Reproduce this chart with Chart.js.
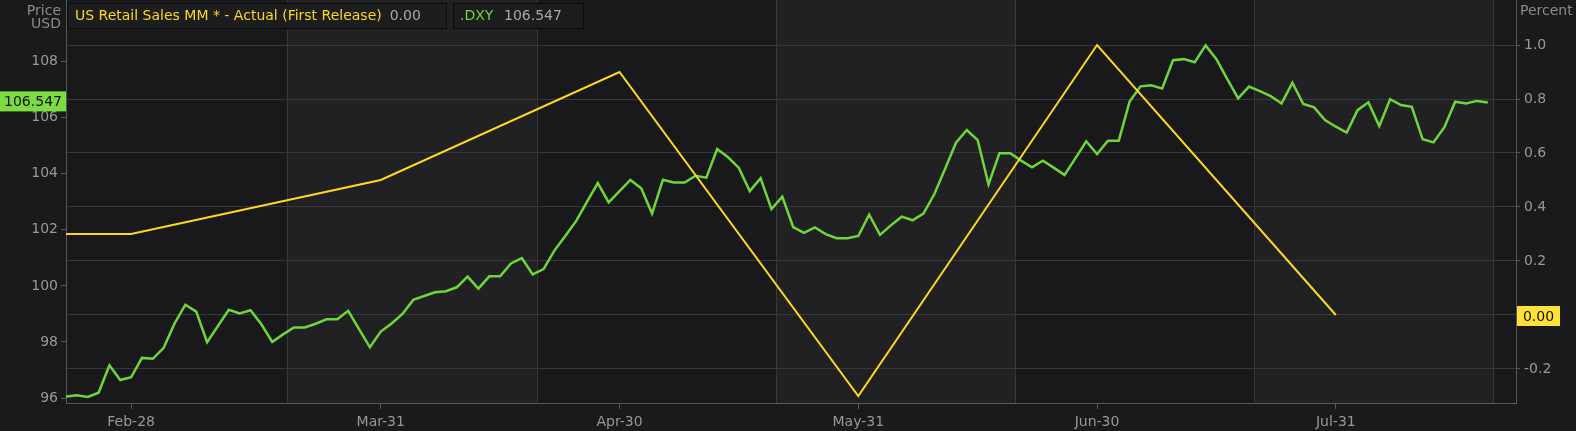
<!DOCTYPE html>
<html>
<head>
<meta charset="utf-8">
<script src="https://cdn.jsdelivr.net/npm/chart.js@4.4.1/dist/chart.umd.min.js"></script>
<style>
  html, body { margin: 0; padding: 0; background: #1a1a1c; overflow: hidden; }
  canvas { display: block; }
</style>
</head>
<body>
<canvas id="chart" width="1576" height="431"></canvas>
<script>
// DXY daily closes, one per trading day (index 0 = left edge)
const dxyValues = [
  96.05, 96.10, 96.04, 96.19, 97.17, 96.64, 96.74, 97.43, 97.40, 97.79,
  98.66, 99.33, 99.08, 97.99, 98.57, 99.15, 99.02, 99.13, 98.63, 98.00,
  98.27, 98.52, 98.52, 98.65, 98.81, 98.81, 99.11, 98.46, 97.81, 98.37,
  98.66, 99.00, 99.50, 99.64, 99.77, 99.81, 99.95, 100.33, 99.90, 100.34,
  100.34, 100.80, 100.99, 100.41, 100.60, 101.26, 101.78, 102.31, 103.00, 103.67,
  102.98, 103.38, 103.78, 103.48, 102.58, 103.79, 103.69, 103.69, 103.93, 103.86,
  104.88, 104.59, 104.21, 103.38, 103.84, 102.74, 103.18, 102.10, 101.89, 102.09,
  101.85, 101.70, 101.70, 101.78, 102.54, 101.82, 102.16, 102.47, 102.34, 102.58,
  103.27, 104.18, 105.11, 105.56, 105.20, 103.62, 104.73, 104.73, 104.47, 104.23,
  104.47, 104.22, 103.96, 104.55, 105.16, 104.70, 105.18, 105.18, 106.58, 107.12,
  107.16, 107.04, 108.05, 108.09, 107.98, 108.58, 108.09, 107.38, 106.69, 107.11,
  106.95, 106.77, 106.51, 107.25, 106.49, 106.37, 105.92, 105.68, 105.47, 106.27,
  106.55, 105.70, 106.66, 106.45, 106.39, 105.23, 105.12, 105.66, 106.57, 106.51,
  106.60, 106.547
];

// US Retail Sales MM, first release (percent), placed at month ends
const retailX = [0, 6, 29, 51, 73, 95, 117];
const retailValues = [0.3, 0.3, 0.5, 0.9, -0.3, 1.0, 0.0];

// x axis labels and their positions (trading-day index)
const monthTickPos = [6, 29, 51, 73, 95, 117];
const monthLabels = ['Feb-28', 'Mar-31', 'Apr-30', 'May-31', 'Jun-30', 'Jul-31'];
const bandEdges = [20.37, 43.41, 65.44, 87.47, 109.49, 131.52];

const priceTicks = [96, 98, 100, 102, 104, 106, 108];
const percentTicks = [-0.2, 0, 0.2, 0.4, 0.6, 0.8, 1.0];

const GREEN = '#6fd63a', YELLOW = '#fcd920', TXT = '#98989a', GRID = '#38383a', AXIS = '#58585a';
const FONT = 'DejaVu Sans';
const TICKFONT = { family: FONT, size: 14 };

// kill the label overflow padding so the plot starts at the very top
const noPad = s => { s.paddingTop = 0; s.paddingBottom = 0; s.paddingLeft = 0; s.paddingRight = 0; };

const backdrop = {
  id: 'backdrop',
  beforeDraw(chart) {
    const { ctx, chartArea: a, scales: { x } } = chart;
    ctx.save();
    ctx.fillStyle = '#19191b';
    ctx.fillRect(a.left, a.top, a.right - a.left, a.bottom - a.top);
    ctx.fillStyle = '#212123';
    for (let i = 0; i < bandEdges.length; i += 2) {
      const x0 = x.getPixelForValue(bandEdges[i]);
      const x1 = i + 1 < bandEdges.length ? x.getPixelForValue(bandEdges[i + 1]) : a.right;
      ctx.fillRect(x0, a.top, Math.min(x1, a.right) - x0, a.bottom - a.top);
    }
    ctx.strokeStyle = GRID;
    ctx.lineWidth = 1;
    bandEdges.forEach(v => {
      const px = Math.round(x.getPixelForValue(v)) + 0.5;
      ctx.beginPath(); ctx.moveTo(px, a.top); ctx.lineTo(px, a.bottom); ctx.stroke();
    });
    ctx.restore();
  },
  afterDraw(chart) {
    const { ctx, chartArea: a, scales: { y, y1 } } = chart;
    ctx.save();
    ctx.font = `14px "${FONT}"`;
    ctx.textBaseline = 'middle';

    // axis titles
    ctx.fillStyle = '#8a8a8c';
    ctx.textAlign = 'right';
    ctx.fillText('Price', 61, 11);
    ctx.fillText('USD', 61, 24);
    ctx.textAlign = 'left';
    ctx.fillText('Percent', 1520, 11);

    // legend boxes
    const box = (x0, w) => {
      ctx.fillStyle = '#1d1d1f';
      ctx.fillRect(x0, 3, w, 26);
      ctx.strokeStyle = '#0a0a0a';
      ctx.strokeRect(x0 + 0.5, 3.5, w - 1, 25);
    };
    box(67, 380);
    box(453, 131);
    ctx.textAlign = 'left';
    ctx.fillStyle = YELLOW;
    const t1 = 'US Retail Sales MM * - Actual (First Release)';
    ctx.fillText(t1, 75, 16);
    ctx.fillStyle = '#a8a8aa';
    ctx.fillText(retailValues[retailValues.length - 1].toFixed(2), 75 + ctx.measureText(t1).width + 8, 16);
    ctx.fillStyle = GREEN;
    ctx.fillText('.DXY', 460, 16);
    ctx.fillStyle = '#a8a8aa';
    ctx.fillText(dxyValues[dxyValues.length - 1].toFixed(3), 504, 16);

    // last value tags
    const gy = y.getPixelForValue(dxyValues[dxyValues.length - 1]);
    ctx.fillStyle = '#7bdc3f';
    ctx.fillRect(0, gy - 11, a.left, 20);
    ctx.fillStyle = '#111';
    ctx.textAlign = 'center';
    ctx.fillText(dxyValues[dxyValues.length - 1].toFixed(3), a.left / 2, gy);

    const yy = y1.getPixelForValue(retailValues[retailValues.length - 1]);
    ctx.fillStyle = '#ffe235';
    ctx.fillRect(a.right + 1, yy - 9, 43, 20);
    ctx.fillStyle = '#111';
    ctx.fillText(retailValues[retailValues.length - 1].toFixed(2), a.right + 22.5, yy + 2);
    ctx.restore();
  }
};

new Chart(document.getElementById('chart'), {
  type: 'line',
  data: {
    datasets: [
      {
        label: 'US Retail Sales MM * - Actual (First Release)',
        data: retailX.map((x, i) => ({ x, y: retailValues[i] })),
        yAxisID: 'y1', borderColor: YELLOW, borderWidth: 2, pointRadius: 0, tension: 0
      },
      {
        label: '.DXY',
        data: dxyValues.map((v, i) => ({ x: i, y: v })),
        yAxisID: 'y', borderColor: GREEN, borderWidth: 2.5, pointRadius: 0, tension: 0
      }
    ]
  },
  options: {
    responsive: false, animation: false,
    layout: { padding: 0 },
    plugins: { legend: { display: false }, tooltip: { enabled: false } },
    scales: {
      x: {
        type: 'linear', min: 0, max: 133.6,
        afterBuildTicks: s => { s.ticks = monthTickPos.map(v => ({ value: v })); },
        afterFit: s => { s.height = 28; noPad(s); },
        ticks: { color: TXT, font: TICKFONT, padding: 5, maxRotation: 0,
                 callback: v => monthLabels[monthTickPos.indexOf(v)] },
        grid: { drawOnChartArea: false, color: AXIS, tickLength: 6 },
        border: { color: AXIS }
      },
      y: {
        position: 'left', min: 95.822, max: 110.2,
        afterBuildTicks: s => { s.ticks = priceTicks.map(v => ({ value: v })); },
        afterFit: s => { s.width = 66; noPad(s); },
        ticks: { color: TXT, font: TICKFONT, padding: 3 },
        grid: { drawOnChartArea: false, color: AXIS, tickLength: 5 },
        border: { color: AXIS }
      },
      y1: {
        position: 'right', min: -0.326, max: 1.1667,
        afterBuildTicks: s => { s.ticks = percentTicks.map(v => ({ value: v })); },
        afterFit: s => { s.width = 60; noPad(s); },
        ticks: { color: TXT, font: TICKFONT, padding: 4,
                 callback: v => v.toFixed(1) },
        grid: { color: GRID, tickLength: 4, tickColor: AXIS },
        border: { color: AXIS }
      }
    }
  },
  plugins: [backdrop]
});
</script>
</body>
</html>
